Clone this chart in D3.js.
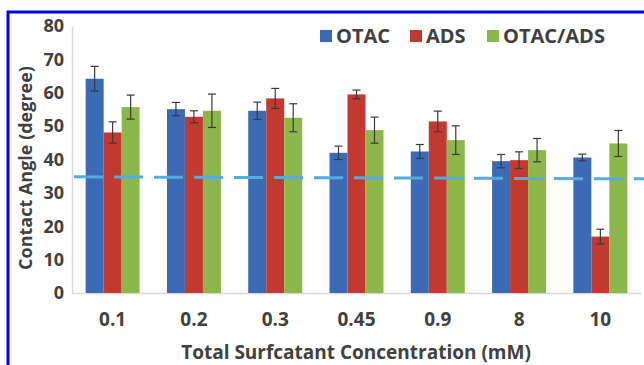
<!DOCTYPE html>
<html>
<head>
<meta charset="utf-8">
<script src="https://cdn.jsdelivr.net/npm/d3@7"></script>
<style>
  body { margin: 0; background: #fff; }
  text { font-family: "Open Sans", sans-serif; font-weight: bold; fill: #404040; }
</style>
</head>
<body>
<div id="canvas"></div>
<script>
// data
const categories = ["0.1", "0.2", "0.3", "0.45", "0.9", "8", "10"];
const seriesNames = ["OTAC", "ADS", "OTAC/ADS"];
const otac = [64.2, 55.1, 54.6, 42.0, 42.4, 39.5, 40.6];
const otacErr = [3.7, 2.0, 2.6, 2.0, 2.1, 2.0, 1.0];
const ads = [48.1, 52.8, 58.3, 59.5, 51.4, 39.8, 16.9];
const adsErr = [3.2, 1.8, 3.0, 1.3, 3.1, 2.5, 2.2];
const mix = [55.7, 54.6, 52.5, 48.8, 45.8, 42.8, 44.8];
const mixErr = [3.6, 5.0, 4.2, 3.9, 4.3, 3.5, 3.9];
const refLine = [34.8, 34.2];   // dashed reference, left end / right end
const yTicks = [0, 10, 20, 30, 40, 50, 60, 70, 80];
const colors = ["#3b6bb4", "#c1392f", "#8cb84b"];

const width = 644;
const height = 365;
const margin = {top: 26, left: 72, bottom: 72, right: 3};
const iwidth = width - margin.left - margin.right;
const iheight = height - margin.top - margin.bottom;

const svg = d3.select("#canvas").append("svg")
    .attr("width", width)
    .attr("height", height);

// blue frame of the figure
svg.append("path")
    .attr("d", `M8,${height} V12 H${width}`)
    .attr("fill", "none")
    .attr("stroke", "#0000ff")
    .attr("stroke-width", 3);

const g = svg.append("g").attr("transform", `translate(${margin.left}, ${margin.top})`);

const x = d3.scaleBand()
    .domain(categories)
    .range([0, iwidth])
    .paddingInner(0.336)
    .paddingOuter(0.168);

const x1 = d3.scaleBand()
    .domain(seriesNames)
    .range([0, x.bandwidth()]);

const y = d3.scaleLinear()
    .domain([0, 80])
    .range([iheight, 0]);

const rows = categories.map((c, i) => ({
    cat: c,
    vals: [
        {s: "OTAC", v: otac[i], e: otacErr[i], c: colors[0]},
        {s: "ADS", v: ads[i], e: adsErr[i], c: colors[1]},
        {s: "OTAC/ADS", v: mix[i], e: mixErr[i], c: colors[2]}
    ]
}));

// axes
const yAxis = g.append("g")
    .call(d3.axisLeft(y).tickValues(yTicks).tickSize(0).tickPadding(8));
yAxis.select(".domain").attr("stroke", "#d9d9d9").attr("stroke-width", 1.5);
yAxis.selectAll("text").style("font-size", "18px").attr("fill", "#404040");

const xAxis = g.append("g")
    .attr("transform", `translate(0, ${iheight})`)
    .call(d3.axisBottom(x).tickSize(0).tickPadding(20));
xAxis.select(".domain").attr("stroke", "#d9d9d9").attr("stroke-width", 1.5);
xAxis.selectAll("text").style("font-size", "19px").attr("fill", "#404040");

// bars
const groups = g.selectAll(".grp").data(rows).enter().append("g")
    .attr("class", "grp")
    .attr("transform", d => `translate(${x(d.cat)}, 0)`);

groups.selectAll("rect").data(d => d.vals).enter().append("rect")
    .attr("x", d => x1(d.s))
    .attr("y", d => y(d.v))
    .attr("width", x1.bandwidth())
    .attr("height", d => iheight - y(d.v))
    .attr("fill", d => d.c);

// error bars
const eb = groups.selectAll(".err").data(d => d.vals).enter().append("g")
    .attr("class", "err")
    .attr("stroke", "#3a3a3a")
    .attr("stroke-width", 1.2);
eb.append("line")
    .attr("x1", d => x1(d.s) + x1.bandwidth() / 2)
    .attr("x2", d => x1(d.s) + x1.bandwidth() / 2)
    .attr("y1", d => y(d.v + d.e))
    .attr("y2", d => y(d.v - d.e));
eb.append("line")
    .attr("x1", d => x1(d.s) + x1.bandwidth() / 2 - 4)
    .attr("x2", d => x1(d.s) + x1.bandwidth() / 2 + 4)
    .attr("y1", d => y(d.v + d.e))
    .attr("y2", d => y(d.v + d.e));
eb.append("line")
    .attr("x1", d => x1(d.s) + x1.bandwidth() / 2 - 4)
    .attr("x2", d => x1(d.s) + x1.bandwidth() / 2 + 4)
    .attr("y1", d => y(d.v - d.e))
    .attr("y2", d => y(d.v - d.e));

// dashed reference line
g.append("line")
    .attr("x1", 2)
    .attr("x2", iwidth + margin.right)
    .attr("y1", y(refLine[0]))
    .attr("y2", y(refLine[1]))
    .attr("stroke", "#5aaae2")
    .attr("stroke-width", 3)
    .attr("stroke-dasharray", "29,11");

// legend
const legendX = [320, 410, 487];
const legend = svg.selectAll(".leg").data(seriesNames).enter().append("g")
    .attr("class", "leg")
    .attr("transform", (d, i) => `translate(${legendX[i]}, 30)`);
legend.append("rect")
    .attr("width", 12)
    .attr("height", 12)
    .attr("fill", (d, i) => colors[i]);
legend.append("text")
    .attr("x", 16)
    .attr("y", 13)
    .style("font-size", "20px")
    .text(d => d);

// axis titles
svg.append("text")
    .attr("text-anchor", "middle")
    .style("font-size", "19px")
    .attr("x", 356)
    .attr("y", 359)
    .text("Total Surfcatant Concentration (mM)");

svg.append("text")
    .attr("text-anchor", "middle")
    .style("font-size", "18px")
    .attr("transform", "translate(32, 168) rotate(-90)")
    .text("Contact Angle (degree)");
</script>
</body>
</html>
